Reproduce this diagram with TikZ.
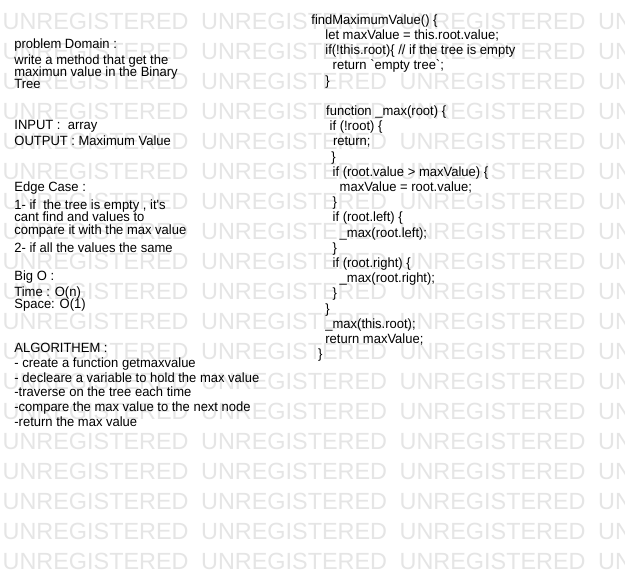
\documentclass[tikz,border=0pt]{standalone}
\usepackage{fontspec}
\newfontfamily\arialfont{Liberation Sans}
\newfontfamily\arialtall{Liberation Sans}[FakeStretch=0.97]
\definecolor{wmgray}{RGB}{229,229,229}
\tikzset{
  txt/.style={font=\arialtall\fontsize{13.4}{15}\selectfont, anchor=base west, inner sep=0pt, text=black},
  wmark/.style={font=\arialfont\fontsize{23.4}{26}\selectfont, anchor=base west, inner sep=0pt, text=wmgray}
}
\begin{document}
\begin{tikzpicture}[x=1pt,y=-1pt]
\useasboundingbox (0,0) rectangle (625,585);
\fill[white] (0,0) rectangle (625,585);
\begin{scope}
\clip (0,0) rectangle (625,585);
\foreach \r in {0,...,18} {
  \foreach \c in {0,...,3} {
    \node[wmark] (wm-\r-\c) at ({2.5+198.5*\c},{29.3+30*\r}) {UNREGISTERED};
  }
}
\end{scope}
% left column
\node[txt] (pd)  at (14.2,48.3)  {problem Domain :};
\node[txt] (pd1) at (14.2,65)    {write a method that get the};
\node[txt] (pd2) at (14.2,77)    {maximun value in the Binary};
\node[txt] (pd3) at (14.2,89)    {Tree};
\node[txt] (in)  at (14.2,130)   {INPUT :\ \ array};
\node[txt] (out) at (14.2,146)   {OUTPUT : Maximum Value};
\node[txt] (ec)  at (14.2,191.7) {Edge Case :};
\node[txt] (ec1) at (14.2,209.3) {1- if\ \ the tree is empty , it's};
\node[txt] (ec2) at (14.2,221.7) {cant find and values to};
\node[txt] (ec3) at (14.2,235)   {compare it with the max value};
\node[txt] (ec4) at (14.2,252.7) {2- if all the values the same};
\node[txt] (bo)  at (14.2,280.7) {Big O :};
\node[txt] (bo1) at (14.2,296.7) {Time : O(n)};
\node[txt] (bo2) at (14.2,308.3) {Space: O(1)};
\node[txt] (al)  at (14.2,352.3) {ALGORITHEM :};
\node[txt] (al1) at (14.2,367.3) {- create a function getmaxvalue};
\node[txt] (al2) at (14.2,382.3) {- decleare a variable to hold the max value};
\node[txt] (al3) at (14.2,397)   {-traverse on the tree each time};
\node[txt] (al4) at (14.2,411.7) {-compare the max value to the next node};
\node[txt] (al5) at (14.2,426.5) {-return the max value};
% code column
\node[txt] (c1)  at (311.2,24.3)  {findMaximumValue() \{};
\node[txt] (c2)  at (325.2,39.5)  {let maxValue = this.root.value;};
\node[txt] (c3)  at (325.2,54.7)  {if(!this.root)\{ // if the tree is empty};
\node[txt] (c4)  at (332.5,69.9)  {return `empty tree`;};
\node[txt] (c5)  at (325.2,85.1)  {\}};
\node[txt] (c6)  at (326.0,115.5) {function \_max(root) \{};
\node[txt] (c7)  at (329.5,130.7) {if (!root) \{};
\node[txt] (c8)  at (332.8,145.9) {return;};
\node[txt] (c9)  at (331.2,161.1) {\}};
\node[txt] (c10) at (332.5,176.3) {if (root.value > maxValue) \{};
\node[txt] (c11) at (339.5,191.5) {maxValue = root.value;};
\node[txt] (c12) at (332.5,206.7) {\}};
\node[txt] (c13) at (332.5,221.9) {if (root.left) \{};
\node[txt] (c14) at (339.5,237.1) {\_max(root.left);};
\node[txt] (c15) at (332.5,252.3) {\}};
\node[txt] (c16) at (332.5,267.5) {if (root.right) \{};
\node[txt] (c17) at (339.5,282.7) {\_max(root.right);};
\node[txt] (c18) at (332.5,297.9) {\}};
\node[txt] (c19) at (325.2,313.1) {\}};
\node[txt] (c20) at (325.2,328.3) {\_max(this.root);};
\node[txt] (c21) at (325.2,343.5) {return maxValue;};
\node[txt] (c22) at (317.8,358.7) {\}};
\end{tikzpicture}
\end{document}
